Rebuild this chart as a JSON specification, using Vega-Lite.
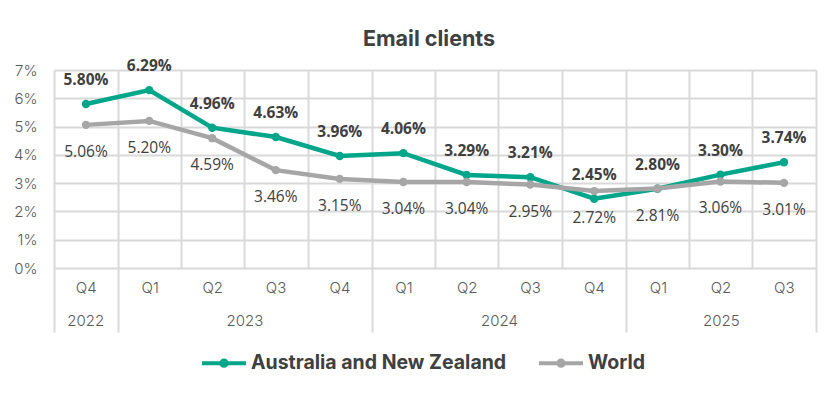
{
  "$schema": "https://vega.github.io/schema/vega-lite/v6.json",
  "width": 762,
  "height": 198,
  "autosize": {"type": "none"},
  "padding": {"left": 54, "top": 70, "right": 24, "bottom": 125},
  "background": "white",
  "title": {
    "text": "Email clients",
    "font": "Inter",
    "fontSize": 21.5,
    "fontWeight": "bold",
    "color": "#404040",
    "anchor": "middle",
    "dx": -6,
    "offset": 9
  },
  "data": {
    "values": [
      {"quarter": "2022-10-01", "series": "Australia and New Zealand", "rate": 0.0580},
      {"quarter": "2023-01-01", "series": "Australia and New Zealand", "rate": 0.0629},
      {"quarter": "2023-04-01", "series": "Australia and New Zealand", "rate": 0.0496},
      {"quarter": "2023-07-01", "series": "Australia and New Zealand", "rate": 0.0463},
      {"quarter": "2023-10-01", "series": "Australia and New Zealand", "rate": 0.0396},
      {"quarter": "2024-01-01", "series": "Australia and New Zealand", "rate": 0.0406},
      {"quarter": "2024-04-01", "series": "Australia and New Zealand", "rate": 0.0329},
      {"quarter": "2024-07-01", "series": "Australia and New Zealand", "rate": 0.0321},
      {"quarter": "2024-10-01", "series": "Australia and New Zealand", "rate": 0.0245},
      {"quarter": "2025-01-01", "series": "Australia and New Zealand", "rate": 0.0280},
      {"quarter": "2025-04-01", "series": "Australia and New Zealand", "rate": 0.0330},
      {"quarter": "2025-07-01", "series": "Australia and New Zealand", "rate": 0.0374},
      {"quarter": "2022-10-01", "series": "World", "rate": 0.0506},
      {"quarter": "2023-01-01", "series": "World", "rate": 0.0520},
      {"quarter": "2023-04-01", "series": "World", "rate": 0.0459},
      {"quarter": "2023-07-01", "series": "World", "rate": 0.0346},
      {"quarter": "2023-10-01", "series": "World", "rate": 0.0315},
      {"quarter": "2024-01-01", "series": "World", "rate": 0.0304},
      {"quarter": "2024-04-01", "series": "World", "rate": 0.0304},
      {"quarter": "2024-07-01", "series": "World", "rate": 0.0295},
      {"quarter": "2024-10-01", "series": "World", "rate": 0.0272},
      {"quarter": "2025-01-01", "series": "World", "rate": 0.0281},
      {"quarter": "2025-04-01", "series": "World", "rate": 0.0306},
      {"quarter": "2025-07-01", "series": "World", "rate": 0.0301}
    ]
  },
  "encoding": {
    "y": {
      "field": "rate",
      "type": "quantitative",
      "scale": {"domain": [0, 0.07], "nice": false, "zero": true},
      "axis": {
        "values": [0, 0.01, 0.02, 0.03, 0.04, 0.05, 0.06, 0.07],
        "format": ".0%",
        "title": null,
        "grid": true,
        "gridColor": "#D9D9D9",
        "gridWidth": 2,
        "ticks": false,
        "domain": false,
        "labelPadding": 17,
        "labelFont": "Inter",
        "labelFontWeight": 300,
        "labelFontSize": 15,
        "labelColor": "#595959"
      }
    },
    "color": {
      "field": "series",
      "type": "nominal",
      "scale": {"domain": ["Australia and New Zealand", "World"], "range": ["#00A68A", "#A6A6A6"]},
      "legend": {
        "title": null,
        "orient": "none",
        "direction": "horizontal",
        "legendX": 146,
        "legendY": 269,
        "symbolType": "M-1,0H1M0,-0.12A0.12,0.12 0 1 1 0,0.12A0.12,0.12 0 1 1 0,-0.12Z",
        "symbolSize": 1936,
        "symbolStrokeWidth": 4,
        "labelFont": "Inter",
        "labelFontSize": 19.5,
        "labelFontWeight": "bold",
        "labelColor": "#404040",
        "labelOffset": 3,
        "columnPadding": 24,
        "labelLimit": 400,
        "encode": {
          "symbols": {
            "update": {
              "fill": {"scale": "color", "field": "value"},
              "stroke": {"scale": "color", "field": "value"},
              "strokeWidth": {"value": 4},
              "opacity": {"value": 1}
            }
          }
        }
      }
    }
  },
  "layer": [
    {
      "transform": [{"filter": "datum.series === 'Australia and New Zealand'"}],
      "mark": {"type": "line", "strokeWidth": 4.5, "point": {"filled": true, "size": 70, "opacity": 1}},
      "encoding": {
        "x": {
          "field": "quarter",
          "timeUnit": "utcyearquarter",
          "type": "temporal",
          "bandPosition": 0.5,
          "scale": {"type": "utc", "nice": false, "domain": [{"year": 2022, "month": 10, "date": 1, "utc": true}, {"year": 2025, "month": 10, "date": 1, "utc": true}]},
          "axis": {
            "orient": "bottom",
            "title": null,
            "values": [
              {"year": 2022, "month": 10, "date": 1, "utc": true},
              {"year": 2023, "month": 1, "date": 1, "utc": true},
              {"year": 2023, "month": 4, "date": 1, "utc": true},
              {"year": 2023, "month": 7, "date": 1, "utc": true},
              {"year": 2023, "month": 10, "date": 1, "utc": true},
              {"year": 2024, "month": 1, "date": 1, "utc": true},
              {"year": 2024, "month": 4, "date": 1, "utc": true},
              {"year": 2024, "month": 7, "date": 1, "utc": true},
              {"year": 2024, "month": 10, "date": 1, "utc": true},
              {"year": 2025, "month": 1, "date": 1, "utc": true},
              {"year": 2025, "month": 4, "date": 1, "utc": true},
              {"year": 2025, "month": 7, "date": 1, "utc": true},
              {"year": 2025, "month": 10, "date": 1, "utc": true}
            ],
            "grid": true,
            "gridColor": "#D9D9D9",
            "gridWidth": 2,
            "ticks": false,
            "labels": false,
            "domain": false
          }
        }
      }
    },
    {
      "transform": [{"filter": "datum.series === 'World'"}],
      "mark": {"type": "line", "strokeWidth": 4.5, "point": {"filled": true, "size": 70, "opacity": 1}},
      "encoding": {
        "x": {
          "field": "quarter",
          "timeUnit": "utcyearquarter",
          "type": "temporal",
          "bandPosition": 0.5,
          "axis": {
            "orient": "bottom",
            "title": null,
            "values": [
              {"year": 2022, "month": 10, "date": 1, "utc": true},
              {"year": 2023, "month": 1, "date": 1, "utc": true},
              {"year": 2023, "month": 4, "date": 1, "utc": true},
              {"year": 2023, "month": 7, "date": 1, "utc": true},
              {"year": 2023, "month": 10, "date": 1, "utc": true},
              {"year": 2024, "month": 1, "date": 1, "utc": true},
              {"year": 2024, "month": 4, "date": 1, "utc": true},
              {"year": 2024, "month": 7, "date": 1, "utc": true},
              {"year": 2024, "month": 10, "date": 1, "utc": true},
              {"year": 2025, "month": 1, "date": 1, "utc": true},
              {"year": 2025, "month": 4, "date": 1, "utc": true},
              {"year": 2025, "month": 7, "date": 1, "utc": true}
            ],
            "labelExpr": "'Q' + utcquarter(datum.value)",
            "labelOffset": 31.75,
            "labelFlush": false,
            "labelOverlap": false,
            "labelBound": false,
            "labelAlign": "center",
            "labelBaseline": "middle",
            "labelPadding": 19,
            "grid": false,
            "ticks": false,
            "domain": false,
            "labelFont": "Inter",
            "labelFontWeight": 300,
            "labelFontSize": 15,
            "labelColor": "#595959"
          }
        }
      }
    },
    {
      "transform": [{"filter": "datum.series === 'Australia and New Zealand'"}],
      "mark": {"type": "text", "dy": -24, "font": "Open Sans", "fontSize": 15.5, "fontWeight": "bold", "color": "#404040"},
      "encoding": {
        "color": {"value": "#404040"},
        "text": {"field": "rate", "type": "quantitative", "format": ".2%"},
        "x": {
          "field": "quarter",
          "timeUnit": "utcyearquarter",
          "type": "temporal",
          "bandPosition": 0.5,
          "axis": {
            "orient": "bottom",
            "title": null,
            "values": [
              {"year": 2022, "month": 10, "date": 1, "utc": true},
              {"year": 2023, "month": 1, "date": 1, "utc": true},
              {"year": 2024, "month": 1, "date": 1, "utc": true},
              {"year": 2025, "month": 1, "date": 1, "utc": true},
              {"year": 2025, "month": 10, "date": 1, "utc": true}
            ],
            "grid": false,
            "ticks": true,
            "tickSize": 64,
            "tickColor": "#D9D9D9",
            "tickWidth": 2,
            "labels": false,
            "domain": false
          }
        }
      }
    },
    {
      "transform": [{"filter": "datum.series === 'World'"}],
      "mark": {"type": "text", "dy": 27, "font": "Open Sans", "fontSize": 15.5, "fontWeight": "normal", "color": "#404040"},
      "encoding": {
        "color": {"value": "#404040"},
        "text": {"field": "rate", "type": "quantitative", "format": ".2%"},
        "x": {
          "field": "quarter",
          "timeUnit": "utcyearquarter",
          "type": "temporal",
          "bandPosition": 0.5,
          "axis": {
            "orient": "bottom",
            "title": null,
            "values": [
              {"year": 2022, "month": 11, "date": 15, "utc": true},
              {"year": 2023, "month": 7, "date": 2, "utc": true},
              {"year": 2024, "month": 7, "date": 2, "utc": true},
              {"year": 2025, "month": 5, "date": 17, "utc": true}
            ],
            "labelExpr": "utcFormat(datum.value, '%Y')",
            "labelFlush": false,
            "labelOverlap": false,
            "labelBound": false,
            "labelAlign": "center",
            "labelBaseline": "middle",
            "labelPadding": 52,
            "grid": false,
            "ticks": false,
            "domain": false,
            "labelFont": "Inter",
            "labelFontWeight": 300,
            "labelFontSize": 15,
            "labelColor": "#595959"
          }
        }
      }
    }
  ],
  "resolve": {"axis": {"x": "independent"}},
  "config": {
    "view": {"stroke": null},
    "text": {"font": "Open Sans"}
  }
}
